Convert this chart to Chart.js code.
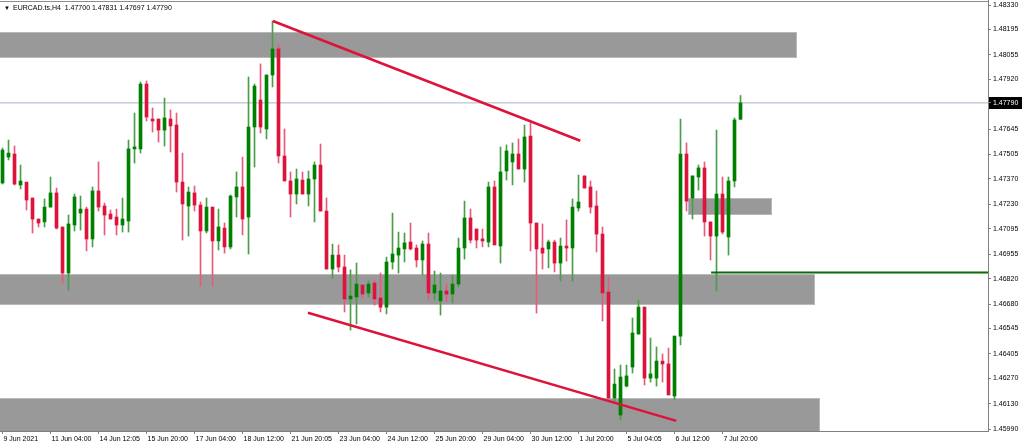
<!DOCTYPE html>
<html>
<head>
<meta charset="utf-8">
<script src="https://cdn.jsdelivr.net/npm/chart.js@4.4.0/dist/chart.umd.min.js"></script>
<style>
  html, body { margin: 0; padding: 0; background: #fff; }
  canvas { display: block; }
</style>
</head>
<body>
<canvas id="myChart" width="1024" height="447"></canvas>
<script>
'use strict'

const titleText = 'EURCAD.ts,H4  1.47700 1.47831 1.47697 1.47790';

// H4 candles, one per bar index
const opens = [
  1.47348, 1.47491, 1.47508, 1.47337, 1.47353, 1.47265, 1.47149, 1.47133, 1.47215, 1.47293,
  1.47105, 1.46851, 1.47116, 1.47182, 1.47204, 1.47039, 1.47304, 1.47221, 1.47177, 1.47160,
  1.47116, 1.47138, 1.47536, 1.47536, 1.47894, 1.47701, 1.47701, 1.47640, 1.47701, 1.47668,
  1.47353, 1.47221, 1.47293, 1.47226, 1.47083, 1.47215, 1.47028, 1.47099, 1.46995, 1.47271,
  1.47326, 1.47160, 1.47657, 1.47806, 1.47646, 1.47944, 1.48088, 1.47497, 1.47359, 1.47287,
  1.47364, 1.47287, 1.47370, 1.47447, 1.47193, 1.46873, 1.46950, 1.46884, 1.46708, 1.46719,
  1.46785, 1.46741, 1.46796, 1.46713, 1.46663, 1.46912, 1.46950, 1.46984, 1.47022, 1.46989,
  1.46923, 1.47011, 1.46741, 1.46697, 1.46752, 1.46735, 1.46790, 1.46989, 1.47155, 1.47094,
  1.47039, 1.47022, 1.47326, 1.47000, 1.47414, 1.47464, 1.47508, 1.47425, 1.47607, 1.47127,
  1.46989, 1.46984, 1.47022, 1.46906, 1.47000, 1.46989, 1.47210, 1.47387, 1.47326, 1.47221,
  1.47066, 1.46746, 1.46161, 1.46067, 1.46227, 1.46332, 1.46514, 1.46663, 1.46271, 1.46271,
  1.46365, 1.46349, 1.46172, 1.46503, 1.47508, 1.47265, 1.47381, 1.47431, 1.47133, 1.47055,
  1.47287, 1.47050, 1.47359, 1.47700
];
const highs = [
  1.47541, 1.47585, 1.47552, 1.47447, 1.47353, 1.47265, 1.47149, 1.47260, 1.47381, 1.47320,
  1.47105, 1.47171, 1.47287, 1.47276, 1.47215, 1.47326, 1.47464, 1.47237, 1.47199, 1.47204,
  1.47265, 1.47585, 1.47734, 1.47905, 1.47911, 1.47762, 1.47701, 1.47817, 1.47751, 1.47734,
  1.47513, 1.47326, 1.47331, 1.47243, 1.47265, 1.47215, 1.47204, 1.47127, 1.47282, 1.47409,
  1.47491, 1.47933, 1.47894, 1.48005, 1.47944, 1.48242, 1.48110, 1.47646, 1.47409, 1.47425,
  1.47409, 1.47414, 1.47464, 1.47563, 1.47265, 1.47011, 1.47006, 1.46950, 1.46868, 1.46906,
  1.46785, 1.46807, 1.46812, 1.46851, 1.46939, 1.47182, 1.47077, 1.47072, 1.47127, 1.47006,
  1.47028, 1.47072, 1.46862, 1.46851, 1.46790, 1.46840, 1.47044, 1.47248, 1.47204, 1.47094,
  1.47094, 1.47353, 1.47359, 1.47547, 1.47558, 1.47569, 1.47591, 1.47668, 1.47679, 1.47127,
  1.47122, 1.47033, 1.47033, 1.47044, 1.47144, 1.47260, 1.47392, 1.47387, 1.47359, 1.47304,
  1.47105, 1.46829, 1.46321, 1.46343, 1.46343, 1.46603, 1.46702, 1.46663, 1.46492, 1.46443,
  1.46404, 1.46437, 1.46503, 1.47701, 1.47569, 1.47387, 1.47447, 1.47464, 1.47133, 1.47640,
  1.47381, 1.47381, 1.47707, 1.47831
];
const lows = [
  1.47342, 1.47475, 1.47337, 1.47315, 1.47199, 1.47072, 1.47105, 1.47105, 1.47215, 1.47094,
  1.46796, 1.46757, 1.47083, 1.47088, 1.46973, 1.46995, 1.47193, 1.47061, 1.47149, 1.47061,
  1.47077, 1.47077, 1.47458, 1.47513, 1.47690, 1.47629, 1.47574, 1.47552, 1.47519, 1.47298,
  1.47033, 1.47055, 1.47193, 1.46779, 1.47072, 1.46779, 1.46978, 1.46961, 1.46984, 1.47160,
  1.47061, 1.46956, 1.47436, 1.47624, 1.47591, 1.47878, 1.47458, 1.47359, 1.47160, 1.47232,
  1.47287, 1.47221, 1.47133, 1.47193, 1.46873, 1.46823, 1.46857, 1.46636, 1.46536, 1.46570,
  1.46713, 1.46719, 1.46674, 1.46636, 1.46625, 1.46873, 1.46851, 1.46912, 1.46978, 1.46884,
  1.46840, 1.46702, 1.46702, 1.46619, 1.46691, 1.46685, 1.46774, 1.46928, 1.47017, 1.46989,
  1.46995, 1.46995, 1.47006, 1.46906, 1.47364, 1.47337, 1.47425, 1.47353, 1.46973, 1.46630,
  1.46873, 1.46879, 1.46857, 1.46807, 1.46917, 1.46807, 1.47193, 1.47320, 1.47182, 1.46967,
  1.46586, 1.46161, 1.46139, 1.46040, 1.46222, 1.46299, 1.46514, 1.46233, 1.46249, 1.46227,
  1.46249, 1.46178, 1.46150, 1.46454, 1.47193, 1.47149, 1.47309, 1.47055, 1.46923, 1.46752,
  1.47066, 1.46950, 1.47326, 1.47697
];
const closes = [
  1.47530, 1.47513, 1.47342, 1.47359, 1.47254, 1.47149, 1.47127, 1.47215, 1.47293, 1.47099,
  1.46851, 1.47122, 1.47271, 1.47204, 1.47039, 1.47304, 1.47215, 1.47171, 1.47149, 1.47116,
  1.47149, 1.47536, 1.47547, 1.47894, 1.47712, 1.47690, 1.47640, 1.47707, 1.47663, 1.47353,
  1.47232, 1.47298, 1.47226, 1.47083, 1.47215, 1.47028, 1.47105, 1.46995, 1.47276, 1.47326,
  1.47149, 1.47657, 1.47883, 1.47657, 1.47944, 1.48088, 1.47497, 1.47359, 1.47287, 1.47370,
  1.47287, 1.47370, 1.47447, 1.47193, 1.46873, 1.46950, 1.46884, 1.46708, 1.46724, 1.46790,
  1.46735, 1.46790, 1.46708, 1.46663, 1.46912, 1.46956, 1.46989, 1.47017, 1.46984, 1.46923,
  1.47011, 1.46741, 1.46785, 1.46752, 1.46735, 1.46790, 1.46989, 1.47155, 1.47033, 1.47033,
  1.47028, 1.47326, 1.47006, 1.47409, 1.47525, 1.47508, 1.47425, 1.47602, 1.47127, 1.46984,
  1.46961, 1.47022, 1.46906, 1.47000, 1.46989, 1.47215, 1.47243, 1.47320, 1.47215, 1.47066,
  1.46741, 1.46161, 1.46238, 1.46277, 1.46283, 1.46520, 1.46663, 1.46271, 1.46294, 1.46365,
  1.46349, 1.46178, 1.46503, 1.47508, 1.47248, 1.47387, 1.47431, 1.47133, 1.47055, 1.47287,
  1.47077, 1.47359, 1.47696, 1.47790
];

// time axis labels, every 8 bars
const xTickIndex = [0, 8, 16, 24, 32, 40, 48, 56, 64, 72, 80, 88, 96, 104, 112, 120];
const xTickLabels = [
  '9 Jun 2021', '11 Jun 04:00', '14 Jun 12:05', '15 Jun 20:00', '17 Jun 04:00', '18 Jun 12:00',
  '21 Jun 20:05', '23 Jun 04:00', '24 Jun 12:00', '25 Jun 20:00', '29 Jun 04:00', '30 Jun 12:00',
  '1 Jul 20:00', '5 Jul 04:05', '6 Jul 12:00', '7 Jul 20:00'
];
const yTickLabels = [
  '1.48330', '1.48195', '1.48055', '1.47920', '1.47790', '1.47645', '1.47505', '1.47370', '1.47230',
  '1.47095', '1.46955', '1.46820', '1.46680', '1.46545', '1.46405', '1.46270', '1.46130', '1.45990'
];

// gray supply / demand boxes (price range, bar range)
const zoneTop = [1.48181, 1.46846, 1.46161, 1.47265];
const zoneBottom = [1.48038, 1.46675, 1.45950, 1.47171];
const zoneFrom = [-1, -1, -1, 114.25];
const zoneTo = [132.4, 135.4, 136.2, 128.25];

// drawn lines
const upperTrend = [{x: 45.05, y: 1.48242}, {x: 96.3, y: 1.47581}];
const lowerTrend = [{x: 50.9, y: 1.46632}, {x: 112.3, y: 1.46035}];
const supportLevel = 1.46854;
const supportFrom = 118.1;

const xMin = -0.42, xMax = 164.25;
const yMin = 1.45979, yMax = 1.48358;

const lastClose = closes[closes.length - 1];
const UP = '#008000', DOWN = '#dc143c';
const UP_WICK = '#4a9e4a', DOWN_WICK = '#e85a7c';
const FONT = '"Liberation Sans", "DejaVu Sans", sans-serif';

const bodies = closes.map((c, i) => ({x: i, y: [opens[i], c]}));
const wicks = closes.map((c, i) => ({x: i, y: [lows[i], highs[i]]}));
const isUp = closes.map((c, i) => c >= opens[i]);

const chartExtras = {
  id: 'chartExtras',
  beforeDraw(chart){
    const {ctx} = chart;
    const y = chart.scales.y.getPixelForValue(lastClose);
    ctx.save();
    ctx.fillStyle = '#000';
    ctx.fillRect(chart.chartArea.right + 1, Math.round(y) - 6, 33, 12);
    ctx.restore();
  },
  beforeDatasetsDraw(chart){
    const {ctx, chartArea} = chart;
    const xs = chart.scales.x, ys = chart.scales.y;
    ctx.save();
    ctx.beginPath();
    ctx.rect(chartArea.left, chartArea.top, chartArea.right - chartArea.left, chartArea.bottom - chartArea.top);
    ctx.clip();
    for(let i = 0; i < zoneTop.length; i++){
      const x1 = Math.round(xs.getPixelForValue(zoneFrom[i]));
      const x2 = Math.round(xs.getPixelForValue(zoneTo[i]));
      const y1 = Math.round(ys.getPixelForValue(zoneTop[i]));
      const y2 = Math.round(ys.getPixelForValue(zoneBottom[i]));
      ctx.fillStyle = '#999999';
      ctx.fillRect(x1, y1, x2 - x1, y2 - y1);
      ctx.strokeStyle = '#b8b8b8';
      ctx.lineWidth = 1;
      ctx.strokeRect(x1 + 0.5, y1 + 0.5, x2 - x1 - 1, y2 - y1 - 1);
    }
    ctx.restore();
  },
  afterDraw(chart){
    const {ctx, chartArea} = chart;
    ctx.save();
    ctx.strokeStyle = '#8c8c8c';
    ctx.lineWidth = 1;
    ctx.beginPath();
    ctx.moveTo(chartArea.left, 1.5);
    ctx.lineTo(chartArea.right, 1.5);
    ctx.stroke();
    ctx.fillStyle = '#000';
    ctx.font = '6px ' + FONT;
    ctx.textBaseline = 'middle';
    ctx.fillText('\u25BC', 4, 8);
    ctx.font = '7px ' + FONT;
    ctx.fillText(titleText, 13, 8);
    ctx.restore();
  }
};

const ctx = document.getElementById('myChart');

new Chart(ctx, {
  type: 'bar',
  data: {
    datasets: [
      {
        type: 'line',
        data: upperTrend,
        borderColor: DOWN,
        borderWidth: 2.5,
        pointRadius: 0,
        order: 0
      },
      {
        type: 'line',
        data: lowerTrend,
        borderColor: DOWN,
        borderWidth: 2.5,
        pointRadius: 0,
        order: 0
      },
      {
        type: 'line',
        data: [{x: supportFrom, y: supportLevel}, {x: xMax, y: supportLevel}],
        borderColor: '#0b6b0b',
        borderWidth: 2,
        pointRadius: 0,
        order: 0
      },
      {
        data: bodies,
        backgroundColor: isUp.map(u => u ? UP : DOWN),
        borderWidth: 0,
        barThickness: 3,
        minBarLength: 1,
        grouped: false,
        order: 1
      },
      {
        data: wicks,
        backgroundColor: isUp.map(u => u ? UP_WICK : DOWN_WICK),
        borderWidth: 0,
        barThickness: 1,
        grouped: false,
        order: 2
      },
      {
        type: 'line',
        data: [{x: xMin, y: lastClose}, {x: xMax, y: lastClose}],
        borderColor: '#aab4c6',
        borderWidth: 1,
        pointRadius: 0,
        order: 3
      }
    ]
  },
  options: {
    responsive: false,
    animation: false,
    layout: { padding: 0 },
    plugins: {
      legend: { display: false },
      tooltip: { enabled: false }
    },
    scales: {
      x: {
        type: 'linear',
        min: xMin,
        max: xMax,
        offset: false,
        afterBuildTicks: (scale) => {
          scale.ticks = xTickIndex.map(v => ({value: v}));
        },
        afterFit: (scale) => {
          scale.height = 16;
          scale.paddingLeft = 0;
          scale.paddingRight = 0;
        },
        grid: {
          offset: false,
          drawOnChartArea: false,
          drawTicks: true,
          tickLength: 3,
          color: '#808080'
        },
        border: { color: '#808080' },
        ticks: {
          autoSkip: false,
          maxRotation: 0,
          align: 'start',
          labelOffset: 1,
          padding: 1,
          color: '#000',
          font: { family: FONT, size: 7 },
          callback: (v, i) => xTickLabels[i]
        }
      },
      y: {
        position: 'right',
        min: yMin,
        max: yMax,
        afterBuildTicks: (scale) => {
          scale.ticks = yTickLabels.map(s => ({value: parseFloat(s)}));
        },
        afterFit: (scale) => {
          scale.width = 36;
          scale.paddingTop = 0;
          scale.paddingBottom = 0;
        },
        grid: {
          drawOnChartArea: false,
          drawTicks: true,
          tickLength: 3,
          color: '#808080'
        },
        border: { color: '#808080' },
        ticks: {
          autoSkip: false,
          padding: 2,
          font: { family: FONT, size: 7 },
          color: (c) => (c.tick && c.tick.value === lastClose) ? '#fff' : '#000',
          callback: (v, i) => yTickLabels[i]
        }
      }
    }
  },
  plugins: [chartExtras]
});
</script>
</body>
</html>
